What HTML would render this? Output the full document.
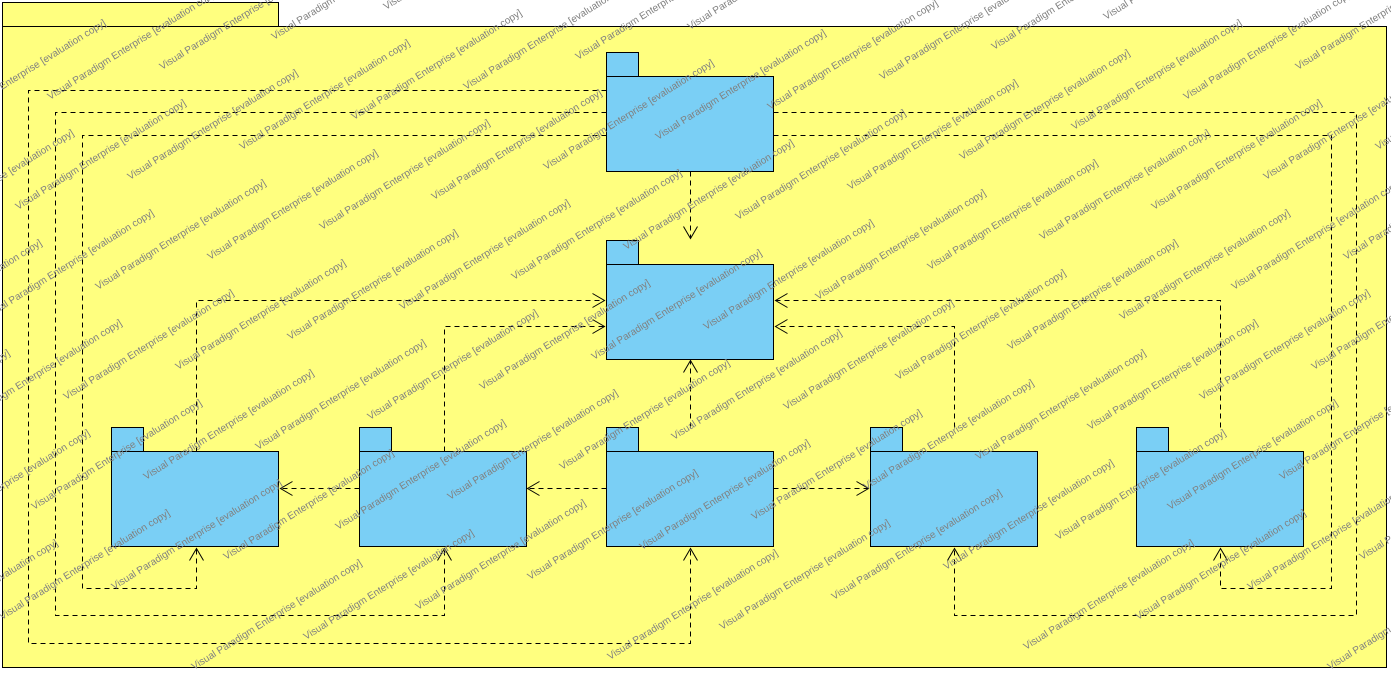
<!DOCTYPE html>
<html><head><meta charset="utf-8"><style>
html,body{margin:0;padding:0;background:#fff;width:1391px;height:673px;overflow:hidden}
svg{display:block;font-family:"Liberation Sans",sans-serif;overflow:hidden}
</style></head><body>
<svg id="d" width="1391" height="673" viewBox="0 0 1391 673">
<defs><clipPath id="cp"><rect x="0" y="0" width="1391" height="673"/></clipPath></defs>
<g>
<rect x="2.5" y="2.5" width="276" height="24" fill="#FFFF7F" stroke="#000"/>
<rect x="2.5" y="26.5" width="1384" height="641" fill="#FFFF7F" stroke="#000"/>
</g>
<g id="deps" fill="none" stroke="#000" stroke-dasharray="5,4"></g>
<g id="pk"></g>
<g id="arrows" fill="none" stroke="#000"></g>
<g id="wm" fill="#808080" font-size="10" clip-path="url(#cp)"></g>
</svg>
<script>
const NS="http://www.w3.org/2000/svg";
const pkgNames=["top","middle","a","b","c","d","e"];
const pkgX=[606,606,111,359,606,870,1136];
const pkgY=[52,240,427,427,427,427,427];
const pk=document.getElementById('pk');
pkgNames.forEach((n,i)=>{
 const g=document.createElementNS(NS,'g');
 
 
 const x=pkgX[i]+.5,y=pkgY[i]+.5;
 g.innerHTML=`<rect x="${x}" y="${y}" width="32" height="24" fill="#7ACFF5" stroke="#000"/><rect x="${x}" y="${y+24}" width="167" height="95" fill="#7ACFF5" stroke="#000"/>`;
 pk.appendChild(g);
});
const paths=[
 [[690,171],[690,238]],
 [[196,451],[196,300],[604,300]],
 [[444,451],[444,326],[604,326]],
 [[690,427],[690,360]],
 [[954,427],[954,326],[775,326]],
 [[1220,427],[1220,300],[775,300]],
 [[606,488],[527,488]],
 [[359,488],[280,488]],
 [[773,488],[868,488]],
 [[606,90],[28,90],[28,643],[690,643],[690,548]],
 [[606,112],[55,112],[55,615],[444,615],[444,548]],
 [[606,135],[82,135],[82,588],[196,588],[196,548]],
 [[773,112],[1356,112],[1356,615],[954,615],[954,548]],
 [[773,135],[1331,135],[1331,588],[1220,588],[1220,548]]
];
const dg=document.getElementById('deps'),ag=document.getElementById('arrows');
paths.forEach((p,i)=>{
 const l=document.createElementNS(NS,'polyline');
 l.setAttribute('points',p.map(q=>(q[0]+.5)+','+(q[1]+.5)).join(' '));
 
 
 dg.appendChild(l);
 const e=p[p.length-1],s=p[p.length-2];
 const dx=Math.sign(e[0]-s[0]),dy=Math.sign(e[1]-s[1]);
 const px=-dy,py=dx;
 const a=document.createElementNS(NS,'polyline');
 a.setAttribute('points',`${e[0]-dx*12+px*7+.5},${e[1]-dy*12+py*7+.5} ${e[0]+.5},${e[1]+.5} ${e[0]-dx*12-px*7+.5},${e[1]-dy*12-py*7+.5}`);
 
 
 ag.appendChild(a);
});
const wm=document.getElementById('wm');
for(let i=-12;i<20;i++)for(let j=-4;j<14;j++){
 const x=50+i*112+j*80, y=100-i*30+j*80;
 if(x<-200||x>1390||y<0||y>676)continue;
 const t=document.createElementNS(NS,'text');
 t.setAttribute('x',x);t.setAttribute('y',y);
 t.setAttribute('transform',`rotate(-32 ${x} ${y})`);
 t.textContent='Visual Paradigm Enterprise [evaluation copy]';
 wm.appendChild(t);
}
</script>
</body></html>
